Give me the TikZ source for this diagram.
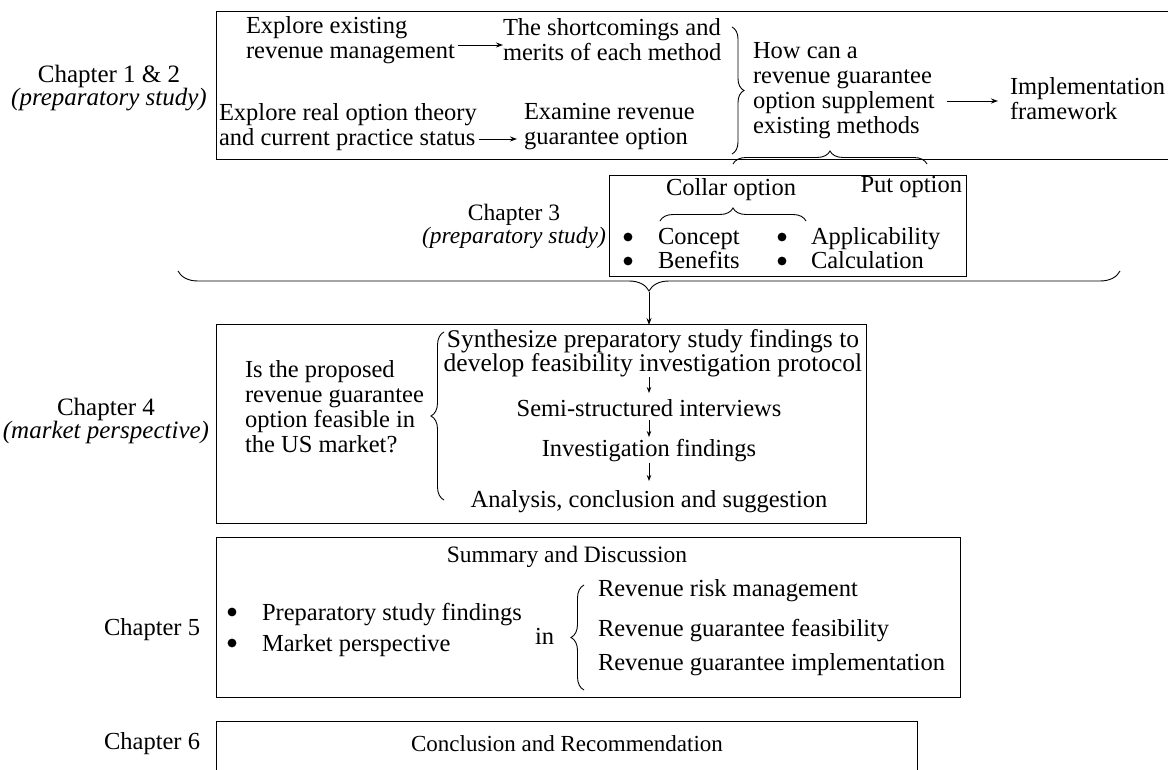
\documentclass[tikz,border=0pt]{standalone}
\usepackage{fontspec}
\setmainfont{Liberation Serif}
\usetikzlibrary{arrows.meta,decorations.pathreplacing}
\begin{document}
\begin{tikzpicture}[x=1pt,y=-1pt,
  every node/.style={inner sep=0pt,outer sep=0pt,font=\fontsize{24.5}{25}\selectfont},
  txt/.style={align=left,anchor=west},
  item/.style={anchor=west,text height=17pt,text depth=5pt},
  ctr/.style={align=center},
  chap/.style={align=center,font=\fontsize{25}{23.5}\selectfont},
  frame/.style={draw,line width=1pt},
  arr/.style={-{Stealth[length=7pt,width=5pt]},line width=0.9pt},
  sarr/.style={-{Stealth[length=6pt,width=4.5pt]},line width=0.8pt},
  brc/.style={decorate,decoration={brace,amplitude=#1},line width=0.9pt},
  brc/.default=12pt,
  dot/.style={fill,radius=4.4pt}
]
\useasboundingbox (0,0) rectangle (1168,770);
% frames
\draw[frame] (1175,12) -- (216,12) -- (216,160) -- (1175,160);
\draw[frame] (609,176) rectangle (966,277);
\draw[frame] (216,324) rectangle (866,523);
\draw[frame] (216,537) rectangle (960,697);
\draw[frame] (216,775) -- (216,721) -- (917,721) -- (917,775);

% chapter labels
\node[chap] (ch12) at (109,88) {Chapter 1 \& 2\\\textit{(preparatory study)}};
\node[chap,font=\fontsize{23.5}{23}\selectfont] (ch3) at (514,226) {Chapter 3\\\textit{(preparatory study)}};
\node[chap] (ch4) at (106,421) {Chapter 4\\\textit{(market perspective)}};
\node[anchor=east] (ch5) at (200,630) {Chapter 5};
\node[anchor=east] (ch6) at (200,744) {Chapter 6};

% box 1
\node[txt] (ex1) at (246,40) {Explore existing\\revenue management};
\node[txt] (sh) at (503,40) {The shortcomings and\\merits of each method};
\node[txt] (ex2) at (219,127) {Explore real option theory\\and current practice status};
\node[txt] (exam) at (524,127) {Examine revenue\\guarantee option};
\node[txt] (how) at (753,91) {How can a\\revenue guarantee\\option supplement\\existing methods};
\node[txt] (impl) at (1010,99) {Implementation\\framework};
\draw[arr] (ex1.east |- 0,45) ++(3,0) -- (sh.west |- 0,45);
\draw[arr] (ex2.east |- 0,139) ++(2,0) -- ([xshift=-7pt]exam.west |- 0,139);
\draw[arr] ([xshift=12pt]how.east |- 0,101) -- ([xshift=-12pt]impl.west |- 0,101);
\coordinate (b1t) at (732,27);
\coordinate (b1b) at (732,154);
\draw[brc] (b1t) -- (b1b);
\coordinate (b2l) at (733,164);
\coordinate (b2r) at (927,164);
\draw[brc=13pt] (b2l) -- (b2r);

% box 3
\node[ctr] (collar) at (731,190) {Collar option};
\node[anchor=east] (put) at (962,187) {Put option};
\coordinate (cbl) at (660,221);
\coordinate (cbr) at (806,221);
\draw[brc=13pt] (cbl) -- (cbr);
\node[item] (concept) at (658,239) {Concept};
\node[item] (benef) at (658,263) {Benefits};
\node[item] (appl) at (811,239) {Applicability};
\node[item] (calc) at (811,263) {Calculation};
\fill[dot] ([xshift=-30pt,yshift=2pt]concept.west) circle;
\fill[dot] ([xshift=-30pt,yshift=2pt]benef.west) circle;
\fill[dot] ([xshift=-29pt,yshift=2pt]appl.west) circle;
\fill[dot] ([xshift=-29pt,yshift=2pt]calc.west) circle;

% big brace
\coordinate (bbr) at (1120,271);
\coordinate (bbl) at (178,271);
\draw[brc=20pt] (bbr) -- (bbl);
\coordinate (bbtip) at (649,292);

% box 4
\node[txt] (q) at (245,407) {Is the proposed\\revenue guarantee\\option feasible in\\the US market?};
\node[ctr,font=\fontsize{25.5}{24}\selectfont] (syn) at (653,353) {Synthesize preparatory study findings to\\develop feasibility investigation protocol};
\node[ctr] (semi) at (649,408) {Semi-structured interviews};
\node[ctr] (inv) at (649,451) {Investigation findings};
\node[ctr] (ana) at (649,502) {Analysis, conclusion and suggestion};
\draw[arr] (bbtip) -- (649,325);
\draw[sarr] (649,377) -- (649,393);
\draw[sarr] (649,420) -- (649,437);
\draw[sarr] (649,463) -- (649,481);
\coordinate (b4b) at (444,500);
\coordinate (b4t) at (444,332);
\draw[brc=13pt] (b4b) -- (b4t);

% box 5
\node[ctr,font=\fontsize{23.5}{25}\selectfont] (sum) at (567,557) {Summary and Discussion};
\node[item] (pf) at (262,614) {Preparatory study findings};
\node[item] (mp) at (262,645) {Market perspective};
\fill[dot] ([xshift=-30pt,yshift=2pt]pf.west) circle;
\fill[dot] ([xshift=-30pt,yshift=2pt]mp.west) circle;
\node[txt] (in) at (535,636) {in};
\coordinate (b5b) at (584,690);
\coordinate (b5t) at (584,585);
\draw[brc=13pt] (b5b) -- (b5t);
\node[txt] (r1) at (598,591) {Revenue risk management};
\node[txt] (r2) at (598,631) {Revenue guarantee feasibility};
\node[txt] (r3) at (598,665) {Revenue guarantee implementation};

% box 6
\node[ctr,font=\fontsize{23}{25}\selectfont] (conc) at (567,744) {Conclusion and Recommendation};
\end{tikzpicture}
\end{document}
